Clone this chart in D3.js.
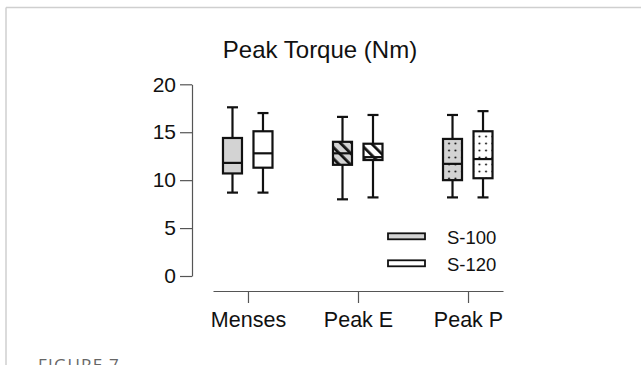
<!DOCTYPE html>
<html><head><meta charset="utf-8">
<script src="https://cdn.jsdelivr.net/npm/d3@7"></script>
<style>
html,body{margin:0;padding:0;background:#fff;}
svg{display:block;}
text{font-family:"Liberation Sans",Arial,sans-serif;}
</style></head>
<body>
<svg id="chart" width="641" height="365"></svg>
<script>
const categories = ["Menses", "Peak E", "Peak P"];
const seriesNames = ["S-100", "S-120"];
const yTicks = [0, 5, 10, 15, 20];
// five-number summaries [min, q1, median, q3, max]
const s100 = [
  [8.7, 10.7, 11.8, 14.4, 17.6],
  [8.0, 11.6, 12.8, 14.0, 16.6],
  [8.2, 10.0, 11.7, 14.3, 16.8]
];
const s120 = [
  [8.7, 11.3, 12.8, 15.1, 17.0],
  [8.2, 12.1, 12.4, 13.8, 16.8],
  [8.2, 10.2, 12.2, 15.1, 17.2]
];
const title = "Peak Torque (Nm)";
const caption = "FIGURE 7";

const svg = d3.select("#chart");
const defs = svg.append("defs");

// patterns
function hatch(id, bg) {
  const p = defs.append("pattern").attr("id", id).attr("patternUnits", "userSpaceOnUse")
    .attr("width", 8).attr("height", 8).attr("patternTransform", "rotate(-45)");
  p.append("rect").attr("width", 8).attr("height", 8).attr("fill", bg);
  p.append("line").attr("x1", 0).attr("y1", 0).attr("x2", 0).attr("y2", 8)
    .attr("stroke", "#111").attr("stroke-width", 5.5);
}
function dots(id, bg) {
  const p = defs.append("pattern").attr("id", id).attr("patternUnits", "userSpaceOnUse")
    .attr("width", 6.5).attr("height", 7);
  p.append("rect").attr("width", 6.5).attr("height", 7).attr("fill", bg);
  p.append("circle").attr("cx", 3).attr("cy", 3.5).attr("r", 1).attr("fill", "#111");
}
hatch("hatchGray", "#d3d3d3");
hatch("hatchWhite", "#ffffff");
dots("dotsGray", "#d3d3d3");
dots("dotsWhite", "#ffffff");
const fills = [
  ["#d3d3d3", "#ffffff"],
  ["url(#hatchGray)", "url(#hatchWhite)"],
  ["url(#dotsGray)", "url(#dotsWhite)"]
];

// frame
svg.append("line").attr("x1", 6).attr("y1", 7.5).attr("x2", 641).attr("y2", 7.5)
  .attr("stroke", "#cfcfcf").attr("stroke-width", 1.5);
svg.append("line").attr("x1", 6).attr("y1", 7.5).attr("x2", 6).attr("y2", 365)
  .attr("stroke", "#cfcfcf").attr("stroke-width", 1.5);

const y = d3.scaleLinear().domain([0, 20]).range([276, 84.3]);
const x = d3.scalePoint().domain(categories).range([213, 503]).padding(0.318);
const offset = d3.scaleOrdinal().domain(seriesNames).range([-15.5, 15]);

// title
svg.append("text").attr("x", 320).attr("y", 58).attr("text-anchor", "middle")
  .attr("font-size", 24).attr("fill", "#111").text(title);

// y axis
const ya = svg.append("g").attr("transform", "translate(192,0)")
  .call(d3.axisLeft(y).tickValues(yTicks).tickSize(12).tickSizeOuter(0).tickPadding(4));
ya.selectAll("path,line").attr("stroke", "#555").attr("stroke-width", 1.2);
ya.selectAll("text").attr("font-size", 21).attr("fill", "#111")
  .style("font-family", "'Liberation Sans',Arial,sans-serif");

// x axis
const xa = svg.append("g").attr("transform", "translate(0,291)")
  .call(d3.axisBottom(x).tickSize(12).tickSizeOuter(0).tickPadding(9));
xa.selectAll("path,line").attr("stroke", "#555").attr("stroke-width", 1.2);
xa.selectAll("text").attr("font-size", 21.5).attr("fill", "#111")
  .style("font-family", "'Liberation Sans',Arial,sans-serif");

// boxes
const boxW = 19, capW = 11;
const all = [];
categories.forEach((c, i) => {
  all.push({cat: c, s: seriesNames[0], v: s100[i], fill: fills[i][0]});
  all.push({cat: c, s: seriesNames[1], v: s120[i], fill: fills[i][1]});
});
const g = svg.append("g").selectAll("g").data(all).join("g")
  .attr("transform", d => `translate(${x(d.cat) + offset(d.s)},0)`);
g.append("line").attr("x1", 0).attr("x2", 0).attr("y1", d => y(d.v[0])).attr("y2", d => y(d.v[4]))
  .attr("stroke", "#111").attr("stroke-width", 2.2);
g.append("line").attr("x1", -capW / 2).attr("x2", capW / 2).attr("y1", d => y(d.v[4])).attr("y2", d => y(d.v[4]))
  .attr("stroke", "#111").attr("stroke-width", 2.2);
g.append("line").attr("x1", -capW / 2).attr("x2", capW / 2).attr("y1", d => y(d.v[0])).attr("y2", d => y(d.v[0]))
  .attr("stroke", "#111").attr("stroke-width", 2.2);
g.append("rect").attr("x", -boxW / 2).attr("width", boxW)
  .attr("y", d => y(d.v[3])).attr("height", d => y(d.v[1]) - y(d.v[3]))
  .attr("fill", d => d.fill).attr("stroke", "#111").attr("stroke-width", 2.2);
g.append("line").attr("x1", -boxW / 2).attr("x2", boxW / 2).attr("y1", d => y(d.v[2])).attr("y2", d => y(d.v[2]))
  .attr("stroke", "#111").attr("stroke-width", 2.2);

// legend
const legFills = ["#d3d3d3", "#ffffff"];
const lg = svg.append("g").selectAll("g").data(seriesNames).join("g")
  .attr("transform", (d, i) => `translate(388,${236.3 + i * 27})`);
lg.append("rect").attr("x", 0).attr("y", -3).attr("width", 37).attr("height", 6)
  .attr("fill", (d, i) => legFills[i]).attr("stroke", "#111").attr("stroke-width", 1.8);
lg.append("text").attr("x", 59).attr("y", 7.5).attr("font-size", 18.5).attr("fill", "#111").text(d => d);

// caption (cut off at the bottom edge, as in the reference)
svg.append("text").attr("x", 38).attr("y", 371).attr("font-size", 17)
  .attr("fill", "#666").attr("letter-spacing", 1.2)
  .style("font-family", "'Open Sans',sans-serif").text(caption);
</script>
</body></html>
